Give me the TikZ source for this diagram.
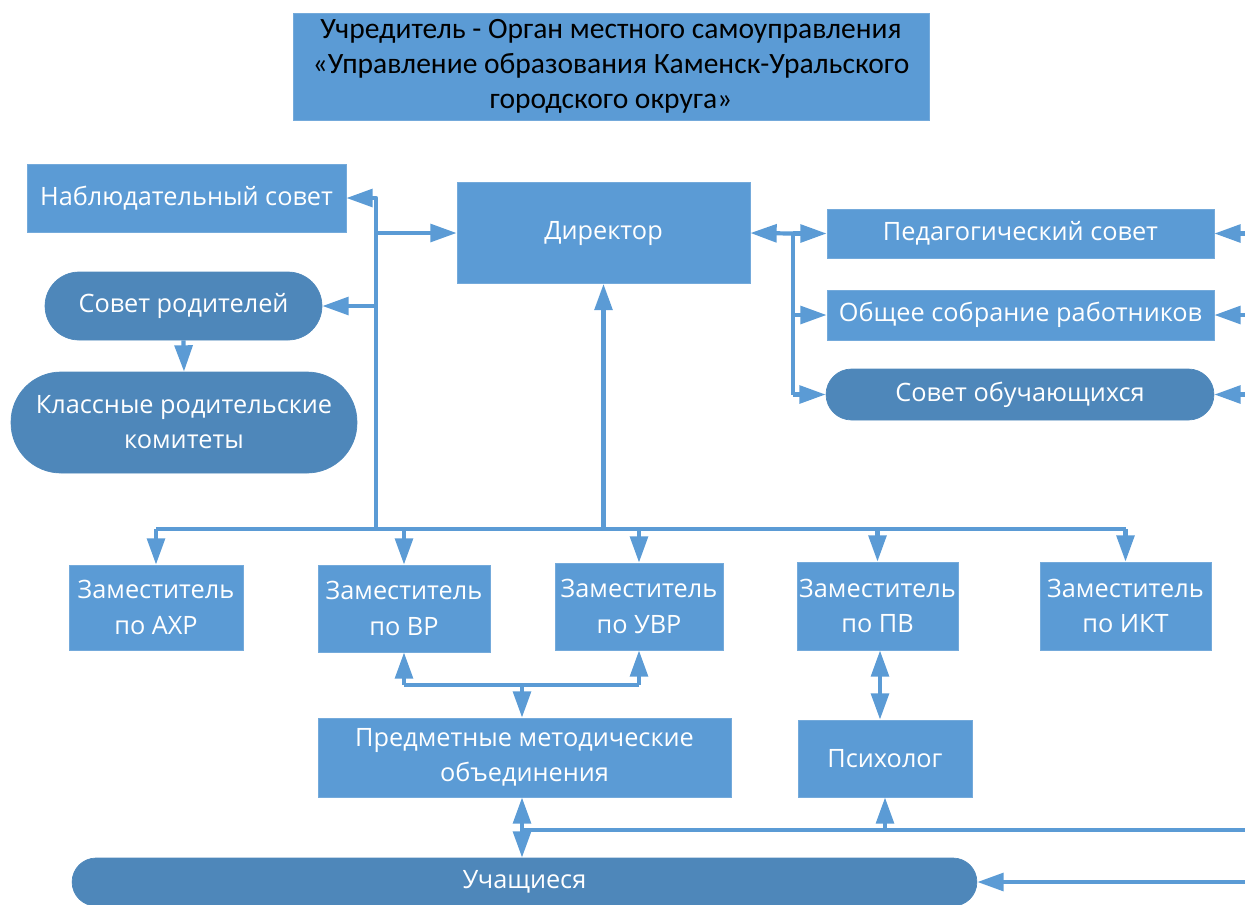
\documentclass[tikz,border=0pt]{standalone}
\usepackage{fontspec}
\setmainfont{Open Sans}
\newfontfamily\calibrifont{Carlito}
\usetikzlibrary{arrows.meta}
\definecolor{boxblue}{HTML}{5B9BD5}
\definecolor{pillblue}{HTML}{4E87BA}
\tikzstyle{box}=[rectangle,fill=boxblue,draw=boxblue!85!white,inner sep=0pt,
                text=white,align=center,font=\fontsize{14.4}{20}\selectfont]
\tikzstyle{pill}=[box,fill=pillblue,draw=pillblue]
\tikzstyle{top box}=[box,text=black,font=\calibrifont\fontsize{16.8}{20}\selectfont]
\tikzstyle{link}=[draw=boxblue,line width=2.4pt,line join=round]
\tikzstyle{hit}=[link,-{Triangle[length=15pt,width=10pt]}]
\tikzstyle{hit both}=[link,{Triangle[length=15pt,width=10pt]}-{Triangle[length=15pt,width=10pt]}]

\begin{document}
\begin{tikzpicture}[x=0.02cm,y=-0.02cm]
\useasboundingbox (0,0) rectangle (1245,904);

\node[top box,minimum width=12.72cm,minimum height=2.14cm] (founder) at (611,66.5)
  {Учредитель - Орган местного самоуправления\\
   «Управление образования Каменск-Уральского\\
   городского округа»};

\node[box,minimum width=6.38cm,minimum height=1.36cm] (board) at (186.5,198) {Наблюдательный совет};
\node[box,minimum width=5.86cm,minimum height=2.02cm] (director) at (603.5,233) {Директор};
\node[box,minimum width=7.74cm,minimum height=0.98cm] (teachers) at (1020.5,233.5) {Педагогический совет};
\node[box,minimum width=7.74cm,minimum height=1.0cm] (staff) at (1020.5,315) {Общее собрание работников};
\node[pill,rounded corners=0.51cm,minimum width=7.76cm,minimum height=1.02cm] (pupilcouncil) at (1020,394.5) {Совет обучающихся};
\node[pill,rounded corners=0.68cm,minimum width=5.54cm,minimum height=1.36cm] (parents) at (183.5,306) {Совет родителей};
\node[pill,rounded corners=1.0cm,minimum width=6.92cm,minimum height=2.02cm] (classparents) at (184,422.5)
  {Классные родительские\\ комитеты};

\node[box,minimum width=3.48cm,minimum height=1.7cm] (dahr) at (156,607.5) {Заместитель\\ по АХР};
\node[box,minimum width=3.44cm,minimum height=1.74cm] (dvr) at (404,608.5) {Заместитель\\ по ВР};
\node[box,minimum width=3.36cm,minimum height=1.74cm] (duvr) at (639,606.5) {Заместитель\\ по УВР};
\node[box,minimum width=3.22cm,minimum height=1.76cm] (dpv) at (877.5,606) {Заместитель\\ по ПВ};
\node[box,minimum width=3.42cm,minimum height=1.76cm] (dikt) at (1125.5,606) {Заместитель\\ по ИКТ};

\node[box,minimum width=8.26cm,minimum height=1.58cm] (methods) at (524.5,757.5)
  {Предметные методические\\ объединения};
\node[box,minimum width=3.48cm,minimum height=1.54cm] (psych) at (885,758.5) {Психолог};
\node[pill,rounded corners=0.48cm,minimum width=18.1cm,minimum height=0.96cm] (pupils) at (524.5,882) {Учащиеся};

\coordinate (trunk) at (376,529);
\coordinate (under) at (603.5,529);
\coordinate (fork) at (793,233.5);
\coordinate (mid) at (522,685);
\coordinate (low) at (522,830);
\coordinate (edge) at (1250,0);

\draw[hit] (trunk) -- (trunk |- board.east) -- (board.east);
\draw[hit] (trunk |- director.west) -- (director.west);
\draw[hit] (trunk |- parents.east) -- (parents.east);
\draw[hit] (parents.south) -- (classparents.north);
\draw[hit] (under) -- (director.south);

\draw[link] (dahr.north |- trunk) -- (dikt.north |- trunk);
\foreach \d in {dahr,dvr,duvr,dpv,dikt}
  \draw[hit] (\d.north |- trunk) -- (\d.north);

\draw[hit] (fork) -- (director.east);
\draw[link] (fork) -- (fork |- pupilcouncil.west);
\foreach \c in {teachers,staff,pupilcouncil}
  \draw[hit] (fork |- \c.west) -- (\c.west);
\foreach \c in {teachers,staff,pupilcouncil,pupils}
  \draw[hit] (edge |- \c.east) -- (\c.east);

\draw[link] (dvr.south |- mid) -- (duvr.south |- mid);
\draw[hit] (dvr.south |- mid) -- (dvr.south);
\draw[hit] (duvr.south |- mid) -- (duvr.south);
\draw[hit] (mid) -- (mid |- methods.north);

\draw[hit both] (880,0 |- dpv.south) -- (880,0 |- psych.north);
\draw[hit both] (low |- methods.south) -- (low |- pupils.north);
\draw[link] (low) -- (edge |- low);
\draw[hit] (psych.south |- low) -- (psych.south);
\end{tikzpicture}
\end{document}
